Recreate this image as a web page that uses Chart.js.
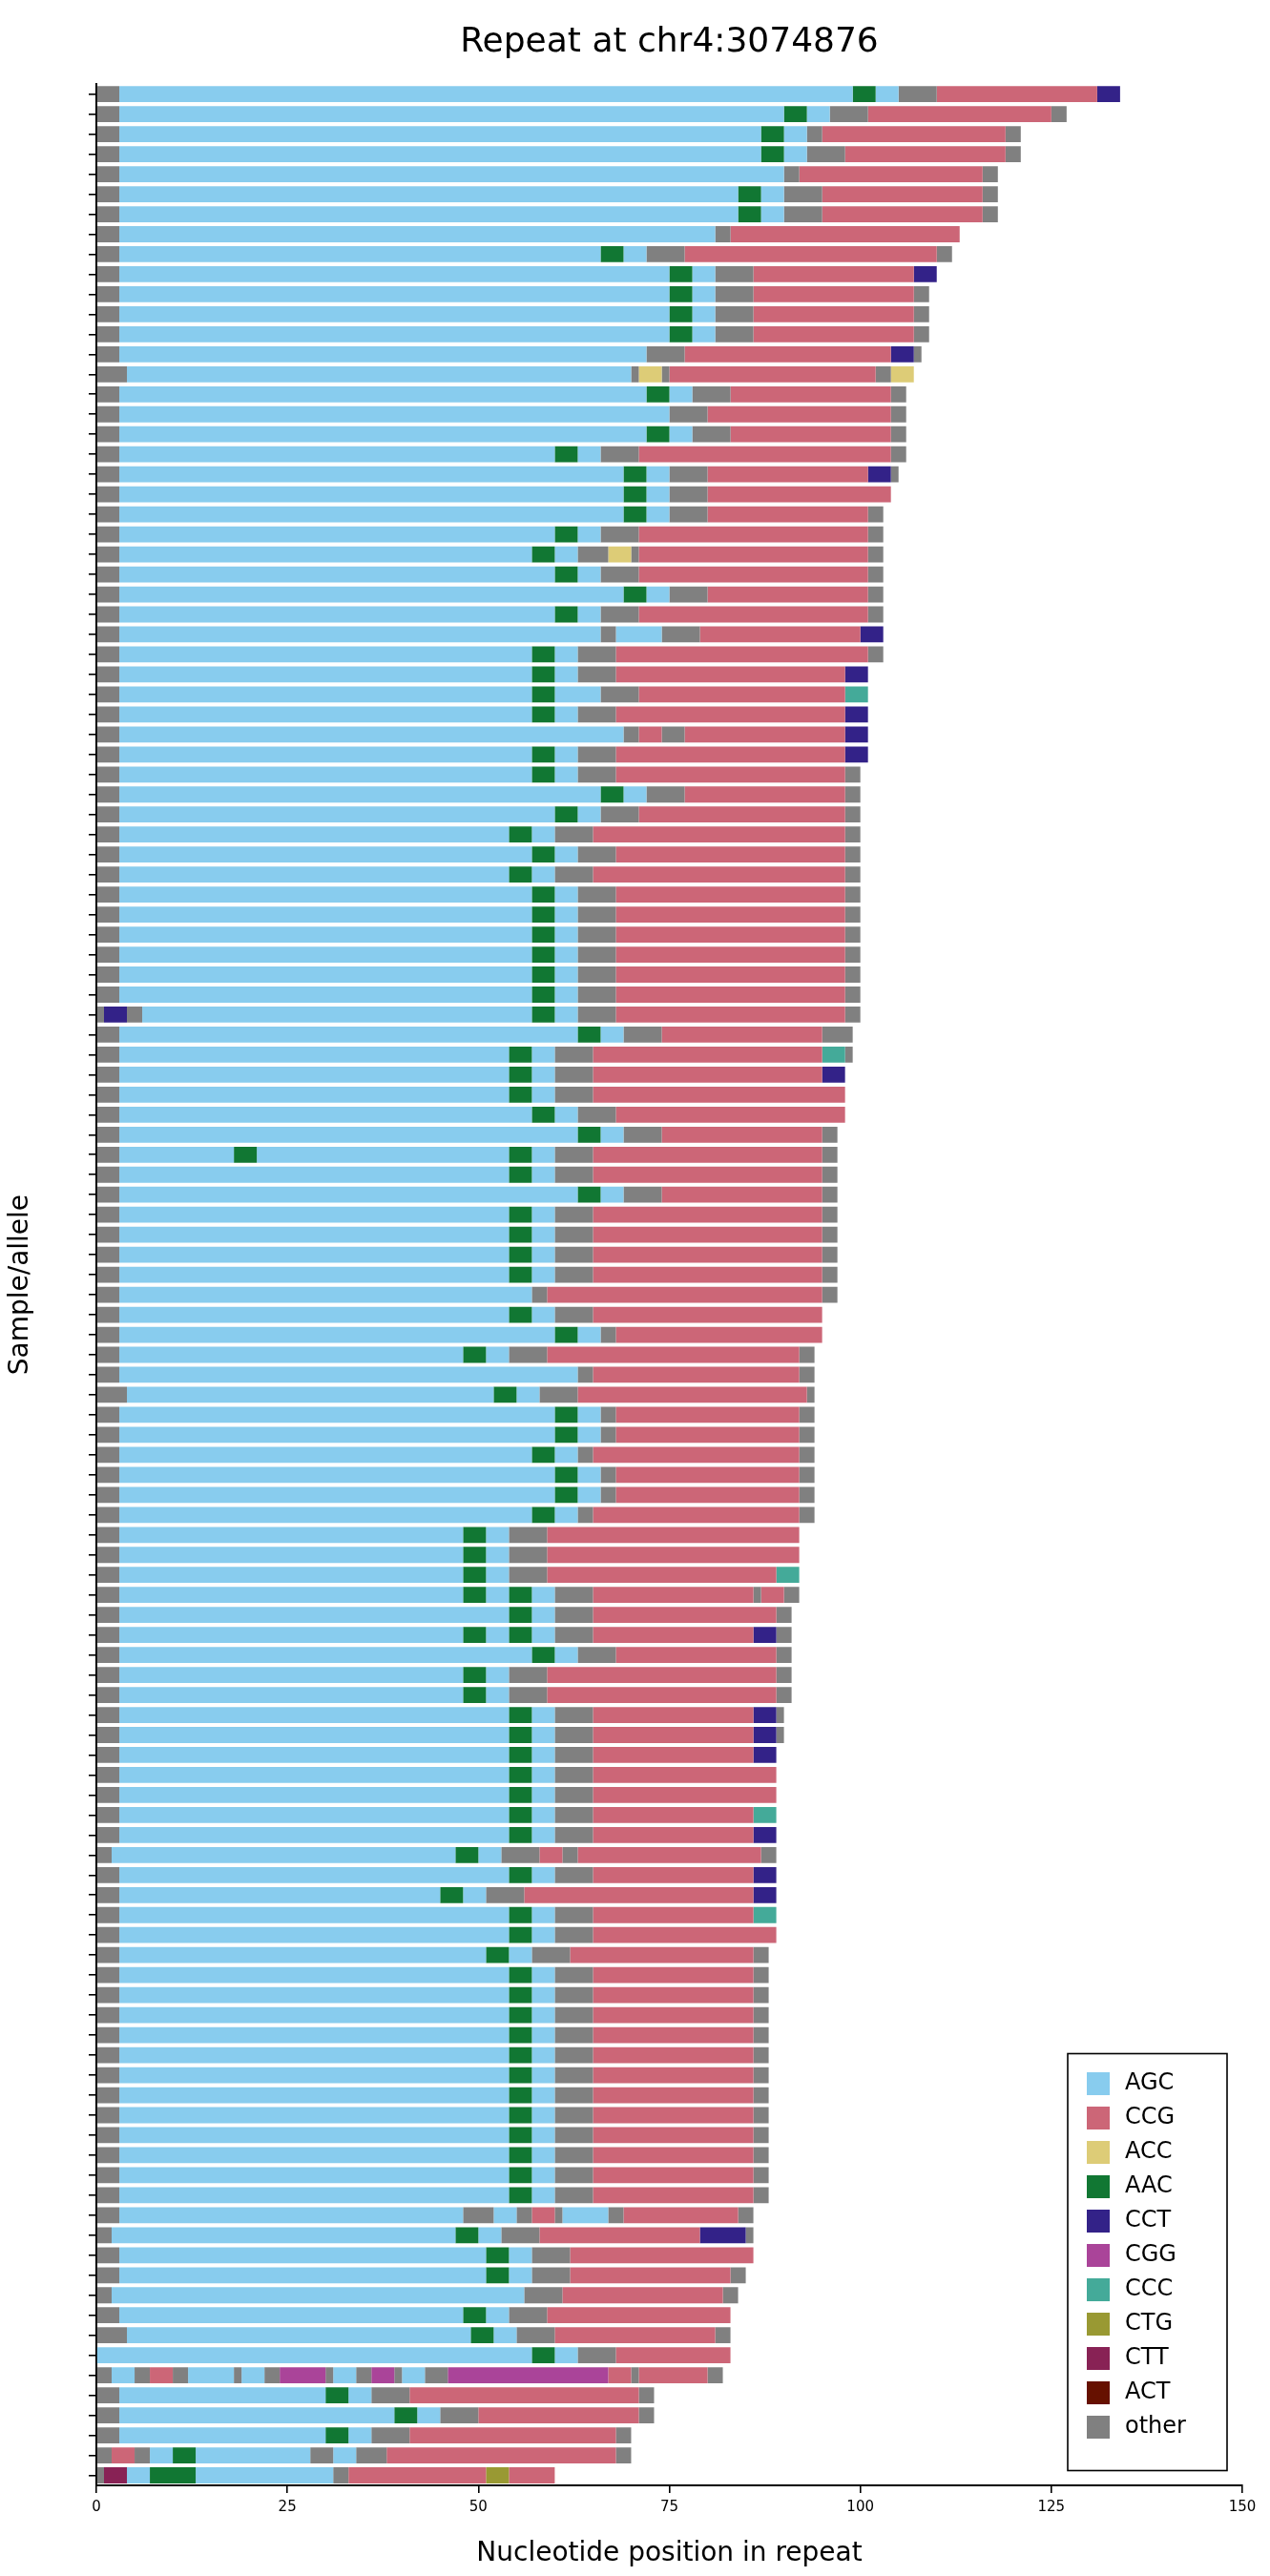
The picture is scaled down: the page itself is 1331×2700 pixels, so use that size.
<!DOCTYPE html>
<html>
<head>
<meta charset="utf-8">
<title>Repeat at chr4:3074876</title>
<script src="https://cdn.jsdelivr.net/npm/chart.js@4.4.1/dist/chart.umd.min.js"></script>
<style>
  html, body { margin: 0; padding: 0; background: #fff; }
  #wrap { width: 1331px; height: 2700px; position: relative; }
</style>
</head>
<body>
<div id="wrap"><canvas id="chart"></canvas></div>
<script>
// motif names, in legend order
const motifNames = ['AGC', 'CCG', 'ACC', 'AAC', 'CCT', 'CGG', 'CCC', 'CTG', 'CTT', 'ACT', 'other'];
const motifColors = ['#88CCEE', '#CC6677', '#DDCC77', '#117733', '#332288', '#AA4499',
  '#44AA99', '#999933', '#882255', '#661100', '#808080'];

// one letter per motif in the allele strings below
const motifCodes = {
  A: 'AGC', C: 'CCG', Y: 'ACC', N: 'AAC', T: 'CCT', G: 'CGG',
  K: 'CCC', L: 'CTG', U: 'CTT', X: 'ACT', o: 'other',
};

// each allele, top to bottom: motif code + length in nucleotides
const alleles = [
  'o3 A96 N3 A3 o5 C21 T3',
  'o3 A87 N3 A3 o5 C24 o2',
  'o3 A84 N3 A3 o2 C24 o2',
  'o3 A84 N3 A3 o5 C21 o2',
  'o3 A87 o2 C24 o2',
  'o3 A81 N3 A3 o5 C21 o2',
  'o3 A81 N3 A3 o5 C21 o2',
  'o3 A78 o2 C30',
  'o3 A63 N3 A3 o5 C33 o2',
  'o3 A72 N3 A3 o5 C21 T3',
  'o3 A72 N3 A3 o5 C21 o2',
  'o3 A72 N3 A3 o5 C21 o2',
  'o3 A72 N3 A3 o5 C21 o2',
  'o3 A69 o5 C27 T3 o1',
  'o4 A66 o1 Y3 o1 C27 o2 Y3',
  'o3 A69 N3 A3 o5 C21 o2',
  'o3 A72 o5 C24 o2',
  'o3 A69 N3 A3 o5 C21 o2',
  'o3 A57 N3 A3 o5 C33 o2',
  'o3 A66 N3 A3 o5 C21 T3 o1',
  'o3 A66 N3 A3 o5 C24',
  'o3 A66 N3 A3 o5 C21 o2',
  'o3 A57 N3 A3 o5 C30 o2',
  'o3 A54 N3 A3 o4 Y3 o1 C30 o2',
  'o3 A57 N3 A3 o5 C30 o2',
  'o3 A66 N3 A3 o5 C21 o2',
  'o3 A57 N3 A3 o5 C30 o2',
  'o3 A63 o2 A6 o5 C21 T3',
  'o3 A54 N3 A3 o5 C33 o2',
  'o3 A54 N3 A3 o5 C30 T3',
  'o3 A54 N3 A6 o5 C27 K3',
  'o3 A54 N3 A3 o5 C30 T3',
  'o3 A66 o2 C3 o3 C21 T3',
  'o3 A54 N3 A3 o5 C30 T3',
  'o3 A54 N3 A3 o5 C30 o2',
  'o3 A63 N3 A3 o5 C21 o2',
  'o3 A57 N3 A3 o5 C27 o2',
  'o3 A51 N3 A3 o5 C33 o2',
  'o3 A54 N3 A3 o5 C30 o2',
  'o3 A51 N3 A3 o5 C33 o2',
  'o3 A54 N3 A3 o5 C30 o2',
  'o3 A54 N3 A3 o5 C30 o2',
  'o3 A54 N3 A3 o5 C30 o2',
  'o3 A54 N3 A3 o5 C30 o2',
  'o3 A54 N3 A3 o5 C30 o2',
  'o3 A54 N3 A3 o5 C30 o2',
  'o1 T3 o2 A51 N3 A3 o5 C30 o2',
  'o3 A60 N3 A3 o5 C21 o4',
  'o3 A51 N3 A3 o5 C30 K3 o1',
  'o3 A51 N3 A3 o5 C30 T3',
  'o3 A51 N3 A3 o5 C33',
  'o3 A54 N3 A3 o5 C30',
  'o3 A60 N3 A3 o5 C21 o2',
  'o3 A15 N3 A33 N3 A3 o5 C30 o2',
  'o3 A51 N3 A3 o5 C30 o2',
  'o3 A60 N3 A3 o5 C21 o2',
  'o3 A51 N3 A3 o5 C30 o2',
  'o3 A51 N3 A3 o5 C30 o2',
  'o3 A51 N3 A3 o5 C30 o2',
  'o3 A51 N3 A3 o5 C30 o2',
  'o3 A54 o2 C36 o2',
  'o3 A51 N3 A3 o5 C30',
  'o3 A57 N3 A3 o2 C27',
  'o3 A45 N3 A3 o5 C33 o2',
  'o3 A60 o2 C27 o2',
  'o4 A48 N3 A3 o5 C30 o1',
  'o3 A57 N3 A3 o2 C24 o2',
  'o3 A57 N3 A3 o2 C24 o2',
  'o3 A54 N3 A3 o2 C27 o2',
  'o3 A57 N3 A3 o2 C24 o2',
  'o3 A57 N3 A3 o2 C24 o2',
  'o3 A54 N3 A3 o2 C27 o2',
  'o3 A45 N3 A3 o5 C33',
  'o3 A45 N3 A3 o5 C33',
  'o3 A45 N3 A3 o5 C30 K3',
  'o3 A45 N3 A3 N3 A3 o5 C21 o1 C3 o2',
  'o3 A51 N3 A3 o5 C24 o2',
  'o3 A45 N3 A3 N3 A3 o5 C21 T3 o2',
  'o3 A54 N3 A3 o5 C21 o2',
  'o3 A45 N3 A3 o5 C30 o2',
  'o3 A45 N3 A3 o5 C30 o2',
  'o3 A51 N3 A3 o5 C21 T3 o1',
  'o3 A51 N3 A3 o5 C21 T3 o1',
  'o3 A51 N3 A3 o5 C21 T3',
  'o3 A51 N3 A3 o5 C24',
  'o3 A51 N3 A3 o5 C24',
  'o3 A51 N3 A3 o5 C21 K3',
  'o3 A51 N3 A3 o5 C21 T3',
  'o2 A45 N3 A3 o5 C3 o2 C24 o2',
  'o3 A51 N3 A3 o5 C21 T3',
  'o3 A42 N3 A3 o5 C30 T3',
  'o3 A51 N3 A3 o5 C21 K3',
  'o3 A51 N3 A3 o5 C24',
  'o3 A48 N3 A3 o5 C24 o2',
  'o3 A51 N3 A3 o5 C21 o2',
  'o3 A51 N3 A3 o5 C21 o2',
  'o3 A51 N3 A3 o5 C21 o2',
  'o3 A51 N3 A3 o5 C21 o2',
  'o3 A51 N3 A3 o5 C21 o2',
  'o3 A51 N3 A3 o5 C21 o2',
  'o3 A51 N3 A3 o5 C21 o2',
  'o3 A51 N3 A3 o5 C21 o2',
  'o3 A51 N3 A3 o5 C21 o2',
  'o3 A51 N3 A3 o5 C21 o2',
  'o3 A51 N3 A3 o5 C21 o2',
  'o3 A51 N3 A3 o5 C21 o2',
  'o3 A45 o4 A3 o2 C3 o1 A6 o2 C15 o2',
  'o2 A45 N3 A3 o5 C21 T6 o1',
  'o3 A48 N3 A3 o5 C24',
  'o3 A48 N3 A3 o5 C21 o2',
  'o2 A54 o5 C21 o2',
  'o3 A45 N3 A3 o5 C24',
  'o4 A45 N3 A3 o5 C21 o2',
  'A57 N3 A3 o5 C15',
  'o2 A3 o2 C3 o2 A6 o1 A3 o2 G6 o1 A3 o2 G3 o1 A3 o3 G21 C3 o1 C9 o2',
  'o3 A27 N3 A3 o5 C30 o2',
  'o3 A36 N3 A3 o5 C21 o2',
  'o3 A27 N3 A3 o5 C27 o2',
  'o2 C3 o2 A3 N3 A15 o3 A3 o4 C30 o2',
  'o1 U3 A3 N6 A18 o2 C18 L3 C6',
];

const alleleLabels = alleles.map((_, i) => 'allele ' + (i + 1));

// turn "o3 A96 ..." into [{motif, start, end}, ...]
function parseAllele(str) {
  let pos = 0;
  return str.split(' ').map((tok) => {
    const len = Number(tok.slice(1));
    const seg = { motif: motifCodes[tok[0]], start: pos, end: pos + len };
    pos += len;
    return seg;
  });
}

const segments = alleles.map(parseAllele);
const maxSegs = Math.max(...segments.map((s) => s.length));
const colorOf = (motif) => motifColors[motifNames.indexOf(motif)];

// one floating-bar dataset per segment slot; all slots share the row
const datasets = [];
for (let k = 0; k < maxSegs; k++) {
  datasets.push({
    label: 'segment ' + (k + 1),
    data: segments.map((s) => (s[k] ? [s[k].start, s[k].end] : null)),
    backgroundColor: segments.map((s) => (s[k] ? colorOf(s[k].motif) : 'rgba(0,0,0,0)')),
    borderWidth: 0,
    grouped: false,
    barPercentage: 0.8,
    categoryPercentage: 1.0,
  });
}

const FONT = "'DejaVu Sans', sans-serif";
Chart.defaults.font.family = FONT;
Chart.defaults.color = '#000';

// boxed legend in the lower right of the plot
const motifLegend = {
  id: 'motifLegend',
  afterDraw(chart) {
    const { ctx, chartArea } = chart;
    const boxW = 167, boxH = 437, gap = 36;
    const right = chartArea.right - 16;
    const bottom = chartArea.bottom - 15.5;
    const left = right - boxW, top = bottom - boxH;
    ctx.save();
    ctx.fillStyle = '#fff';
    ctx.fillRect(left, top, boxW, boxH);
    ctx.strokeStyle = '#000';
    ctx.lineWidth = 1.6;
    ctx.strokeRect(left, top, boxW, boxH);
    ctx.font = '24px ' + FONT;
    ctx.textBaseline = 'middle';
    motifNames.forEach((name, i) => {
      const cy = top + 31.5 + i * gap;
      ctx.fillStyle = motifColors[i];
      ctx.fillRect(left + 20, cy - 12, 24, 24);
      ctx.fillStyle = '#000';
      ctx.fillText(name, left + 60, cy);
    });
    ctx.restore();
  },
};

new Chart(document.getElementById('chart'), {
  type: 'bar',
  data: { labels: alleleLabels, datasets: datasets },
  options: {
    indexAxis: 'y',
    responsive: true,
    maintainAspectRatio: false,
    devicePixelRatio: 1,
    animation: false,
    layout: { padding: { top: 0, right: 29, bottom: 2, left: 0 } },
    plugins: {
      legend: { display: false },
      tooltip: { enabled: false },
      title: {
        display: true,
        text: 'Repeat at chr4:3074876',
        fullSize: false,
        font: { size: 36, weight: 'normal' },
        color: '#000',
        padding: { top: 23, bottom: 22 },
      },
    },
    scales: {
      x: {
        type: 'linear',
        min: 0,
        max: 150,
        z: 1,
        ticks: { stepSize: 25, font: { size: 15 }, color: '#000', padding: 6 },
        grid: { drawOnChartArea: false, drawTicks: true, tickLength: 8, color: '#000', lineWidth: 1.6 },
        border: { display: true, color: '#000', width: 2 },
        title: {
          display: true,
          text: 'Nucleotide position in repeat',
          font: { size: 28 },
          color: '#000',
          padding: { top: 4, bottom: 4 },
        },
        afterFit(scale) { scale.height = 93; },
      },
      y: {
        type: 'category',
        offset: true,
        z: 1,
        ticks: { display: false, autoSkip: false },
        grid: { offset: false, drawOnChartArea: false, drawTicks: true, tickLength: 8, color: '#000', lineWidth: 1.6 },
        border: { display: true, color: '#000', width: 2 },
        title: {
          display: true,
          text: 'Sample/allele',
          font: { size: 28 },
          color: '#000',
          padding: { top: 5, bottom: 4 },
        },
        afterFit(scale) { scale.width = 101; },
      },
    },
  },
  plugins: [motifLegend],
});
</script>
</body>
</html>
